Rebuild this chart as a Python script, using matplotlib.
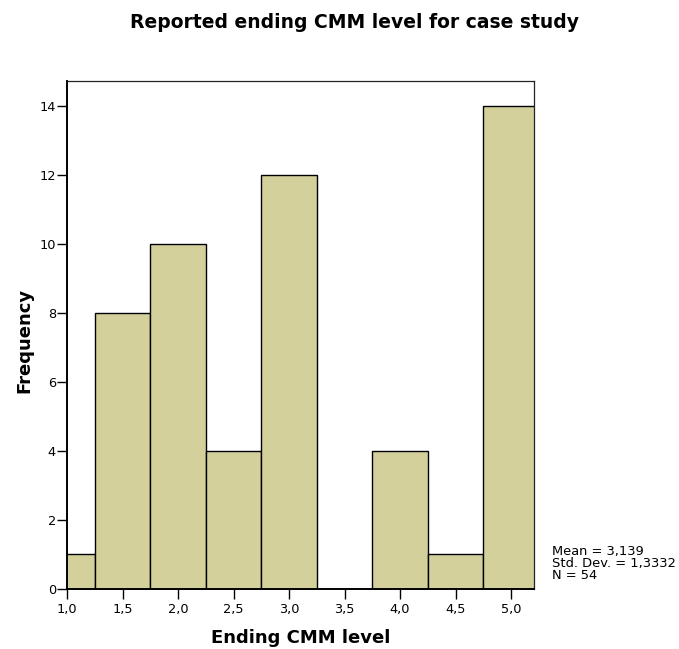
import matplotlib
matplotlib.use("Agg")
import matplotlib.pyplot as plt
from matplotlib.ticker import FuncFormatter

plt.rcParams['font.family'] = ['DejaVu Sans']

bin_centers = [1.0, 1.5, 2.0, 2.5, 3.0, 3.5, 4.0, 4.5, 5.0]
counts = [1, 8, 10, 4, 12, 0, 4, 1, 14]
x_ticks = [1.0, 1.5, 2.0, 2.5, 3.0, 3.5, 4.0, 4.5, 5.0]
y_ticks = [0, 2, 4, 6, 8, 10, 12, 14]
stats_lines = ["Mean = 3,139", "Std. Dev. = 1,3332", "N = 54"]

W, H = 679, 649
fig = plt.figure(figsize=(W / 100, H / 100), dpi=100)
ax_l, ax_r, ax_t, ax_b = 67, 534, 81, 589
ax = fig.add_axes([ax_l / W, 1 - ax_b / H, (ax_r - ax_l) / W, (ax_b - ax_t) / H])

ax.bar(bin_centers, counts, width=0.5, color='#D3D09B', edgecolor='black', linewidth=1.0)
ax.set_xlim(1.0, 5.207)
ax.set_ylim(0, 14.72)
ax.set_xticks(x_ticks)
ax.set_yticks(y_ticks)
ax.xaxis.set_major_formatter(FuncFormatter(lambda v, p: f"{v:.1f}".replace('.', ',')))
ax.tick_params(axis='both', direction='out', length=7, width=1, labelsize=9.3, colors='black')
ax.tick_params(axis='y', pad=1)
ax.tick_params(axis='x', pad=3)
for s in ['left', 'bottom']:
    ax.spines[s].set_linewidth(1.4)
for s in ['top', 'right']:
    ax.spines[s].set_linewidth(0.9)
    ax.spines[s].set_color('#222222')

ax.set_xlabel("Ending CMM level", fontsize=13, fontweight='bold', va='baseline')
ax.xaxis.set_label_coords(0.5, (ax_b - 643) / (ax_b - ax_t))
ax.set_ylabel("Frequency", fontsize=13, fontweight='bold', va='baseline')
ax.yaxis.set_label_coords((29 - ax_l) / (ax_r - ax_l), 0.49)

fig.text(354 / W, 1 - 28 / H, "Reported ending CMM level for case study",
         ha='center', va='baseline', fontsize=13.5, fontweight='bold')

for i, line in enumerate(stats_lines):
    fig.text(552 / W, 1 - (555 + 12 * i) / H, line, ha='left', va='baseline', fontsize=9.4)

fig.savefig("out.png", dpi=100)
